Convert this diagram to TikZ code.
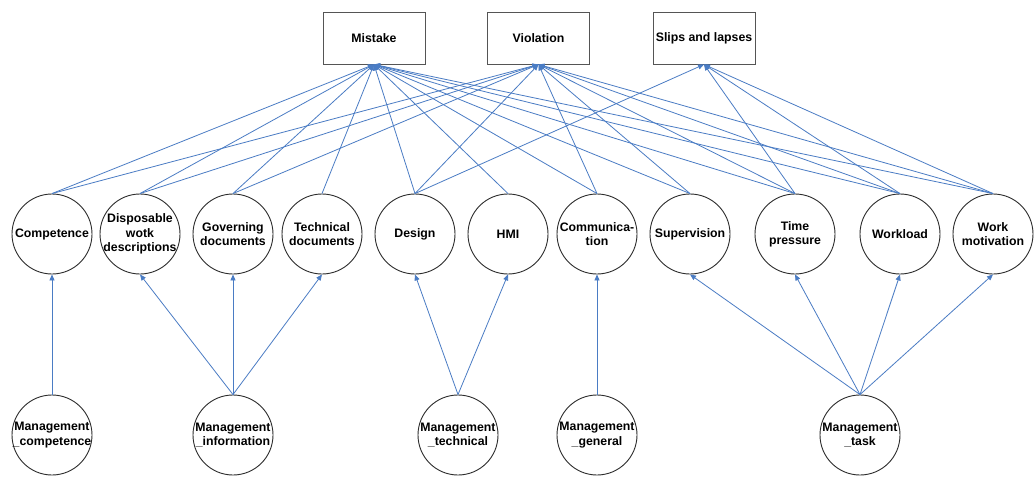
\documentclass[tikz,border=0pt]{standalone}
\usepackage{fontspec}
\setmainfont{Liberation Sans}
\usetikzlibrary{arrows.meta}
\definecolor{edgeblue}{RGB}{74,124,196}
\definecolor{circgray}{RGB}{45,45,45}
\definecolor{boxgray}{RGB}{85,85,85}
\begin{document}
\begin{tikzpicture}[x=1pt,y=-1pt,
  txt/.style={font=\fontsize{12.3}{14.3}\selectfont\bfseries, align=center, inner sep=0pt},
  circ/.style={circle, draw=circgray, line width=0.9pt, minimum size=80pt, inner sep=0pt},
  box/.style={draw=boxgray, line width=0.9pt, minimum width=102pt, minimum height=52pt, txt},
  edge/.style={draw=edgeblue, line width=0.8pt, -{Triangle[length=6pt,width=5pt]}}
]
\fill[white] (0,0) rectangle (1034,477);
\useasboundingbox (0,0) rectangle (1034,477);

% outcome boxes
\node[box] (mis) at (374,38) {Mistake};
\node[box] (vio) at (538.5,38) {Violation};
\node[box] (sl) at (704,38) {Slips and lapses};

% middle factors
\node[circ, label={[txt]center:Competence}] (comp) at (52,234) {};
\node[circ, label={[txt]center:{Disposable\\wotk\\descriptions}}] (disp) at (140,234) {};
\node[circ, label={[txt]center:{Governing\\documents}}] (gov) at (233,234) {};
\node[circ, label={[txt]center:{Technical\\documents}}] (tech) at (322,234) {};
\node[circ, label={[txt]center:Design}] (des) at (415,234) {};
\node[circ, label={[txt]center:HMI}] (hmi) at (508,234) {};
\node[circ, label={[txt]center:{Communica-\\tion}}] (com) at (597,234) {};
\node[circ, label={[txt]center:Supervision}] (sup) at (690,234) {};
\node[circ, label={[txt]center:{Time\\pressure}}] (tp) at (795,234) {};
\node[circ, label={[txt]center:Workload}] (wl) at (900,234) {};
\node[circ, label={[txt]center:{Work\\motivation}}] (wm) at (993,234) {};

% management nodes
\node[circ, label={[txt]center:{Management\\\_competence}}] (mc) at (52,435) {};
\node[circ, label={[txt]center:{Management\\\_information}}] (mi) at (233,435) {};
\node[circ, label={[txt]center:{Management\\\_technical}}] (mt) at (458,435) {};
\node[circ, label={[txt]center:{Management\\\_general}}] (mg) at (597,435) {};
\node[circ, label={[txt]center:{Management\\\_task}}] (mta) at (860,435) {};

% factors -> outcomes
\foreach \n in {comp,disp,gov,tech,des,hmi,com,sup,tp,wl,wm}
  \draw[edge] (\n.north) -- (mis.south);
\foreach \n in {comp,disp,gov,des,com,sup,tp,wl,wm}
  \draw[edge] (\n.north) -- (vio.south);
\foreach \n in {des,tp,wl,wm}
  \draw[edge] (\n.north) -- (sl.south);

% management -> factors
\draw[edge] (mc.north) -- (comp.south);
\foreach \n in {disp,gov,tech}
  \draw[edge] (mi.north) -- (\n.south);
\foreach \n in {des,hmi}
  \draw[edge] (mt.north) -- (\n.south);
\draw[edge] (mg.north) -- (com.south);
\foreach \n in {sup,tp,wl,wm}
  \draw[edge] (mta.north) -- (\n.south);
\end{tikzpicture}
\end{document}
